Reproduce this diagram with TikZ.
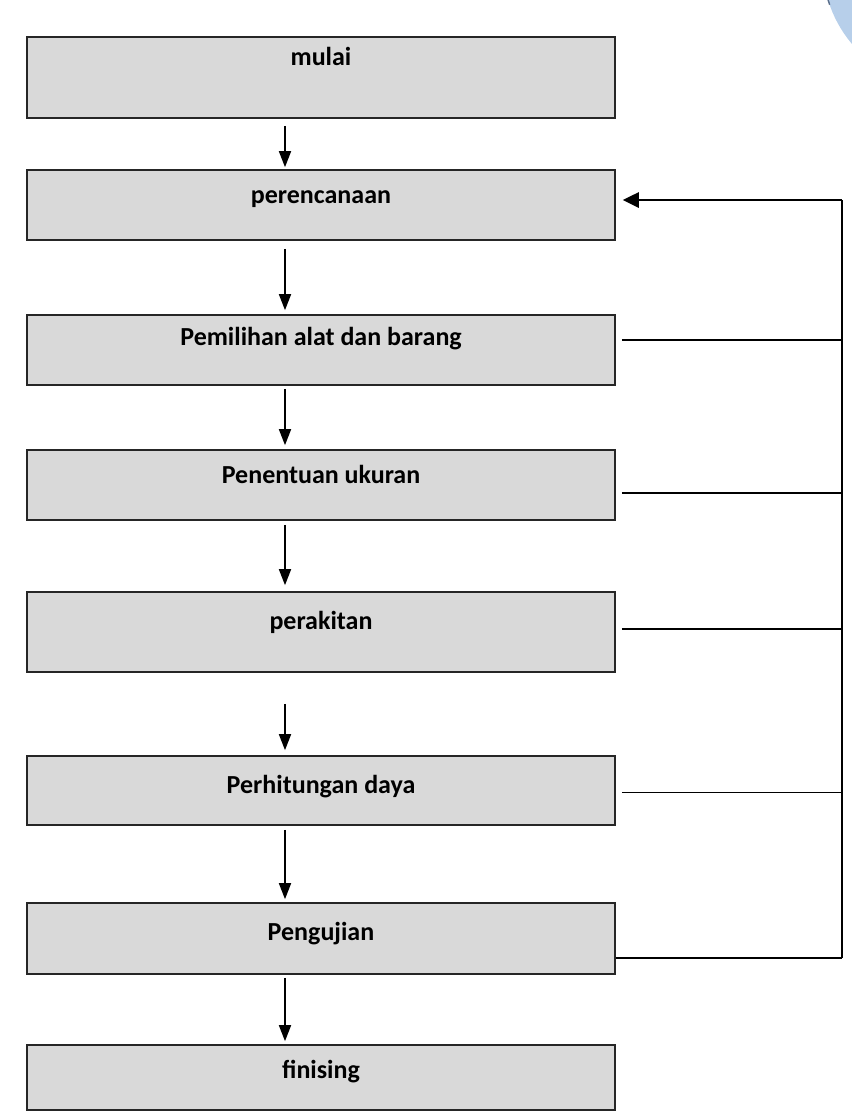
\documentclass[tikz,border=0pt]{standalone}
\usepackage{fontspec}
\setmainfont{Carlito}
\usetikzlibrary{arrows.meta,calc}
\definecolor{boxgray}{HTML}{D9D9D9}
\definecolor{edgeblue}{HTML}{B7CFEA}
\definecolor{edgedark}{HTML}{5A6E8A}
\begin{document}
\begin{tikzpicture}[x=1pt,y=-1pt,
  stepbox/.style={draw=black!85,line width=1.6pt,fill=boxgray,rectangle,inner sep=0pt,minimum width=588pt},
  steptext/.style={font=\bfseries\fontsize{26}{28}\selectfont,inner sep=0pt,anchor=base},
  flow/.style={line width=1.6pt,-{Triangle[width=12pt,length=16pt]}},
  fb/.style={line width=1.7pt},
  fbarrow/.style={line width=2.8pt,-{Triangle[width=15pt,length=16pt]}}]
\useasboundingbox (0,0) rectangle (852,1112);
% decorative corner shape
\begin{scope}
\clip (0,0) rectangle (852,1112);
\fill[edgeblue] (945,-35) circle (122);
\draw[edgedark,line width=1.4pt] (945,-35) ++(172:122) arc (172:161:122);
\end{scope}
% boxes
\node[stepbox,minimum height=81pt] (b1) at (321,77.5) {};
\node[stepbox,minimum height=70pt] (b2) at (321,205) {};
\node[stepbox,minimum height=70pt] (b3) at (321,350) {};
\node[stepbox,minimum height=70pt] (b4) at (321,485) {};
\node[stepbox,minimum height=80pt] (b5) at (321,632) {};
\node[stepbox,minimum height=69pt] (b6) at (321,790.5) {};
\node[stepbox,minimum height=71pt] (b7) at (321,938.5) {};
\node[stepbox,minimum height=65pt] (b8) at (321,1077.5) {};
% texts (baseline below each box top)
\node[steptext] (t1) at ($(b1.north)+(0,29)$) {mulai};
\node[steptext] (t2) at ($(b2.north)+(0,34)$) {perencanaan};
\node[steptext] (t3) at ($(b3.north)+(0,31)$) {Pemilihan alat dan barang};
\node[steptext] (t4) at ($(b4.north)+(0,34)$) {Penentuan ukuran};
\node[steptext] (t5) at ($(b5.north)+(0,38)$) {perakitan};
\node[steptext] (t6) at ($(b6.north)+(0,38)$) {Perhitungan daya};
\node[steptext] (t7) at ($(b7.north)+(0,38)$) {Pengujian};
\node[steptext] (t8) at ($(b8.north)+(0,34)$) {finising};
% flow arrows
\draw[flow] ($(b1.south)+(-36,7)$) -- ($(b2.north)+(-36,-2)$);
\draw[flow] ($(b2.south)+(-36,8)$) -- ($(b3.north)+(-36,-4)$);
\draw[flow] ($(b3.south)+(-36,3)$) -- ($(b4.north)+(-36,-4)$);
\draw[flow] ($(b4.south)+(-36,4)$) -- ($(b5.north)+(-36,-6)$);
\draw[flow] ($(b5.south)+(-36,31)$) -- ($(b6.north)+(-36,-5)$);
\draw[flow] ($(b6.south)+(-36,4)$) -- ($(b7.north)+(-36,-3)$);
\draw[flow] ($(b7.south)+(-36,3)$) -- ($(b8.north)+(-36,-3)$);
% feedback
\coordinate (top) at (842,200);
\coordinate (bot) at (842,958);
\coordinate (s3) at ($(b3.east)+(6,-10)$);
\coordinate (s4) at ($(b4.east)+(6,8)$);
\coordinate (s5) at ($(b5.east)+(6,-3)$);
\coordinate (s6) at ($(b6.east)+(6,2)$);
\coordinate (s7) at ($(b7.east)+(0,19.5)$);
\draw[fb] (top) -- (bot);
\draw[fbarrow] (top) -- ($(b2.east)+(7,-5)$);
\draw[fb] (s3) -- (s3 -| top);
\draw[fb] (s4) -- (s4 -| top);
\draw[fb] (s5) -- (s5 -| top);
\draw[fb] (s6) -- (s6 -| top);
\draw[fb] (s7) -- (bot);
\end{tikzpicture}
\end{document}
